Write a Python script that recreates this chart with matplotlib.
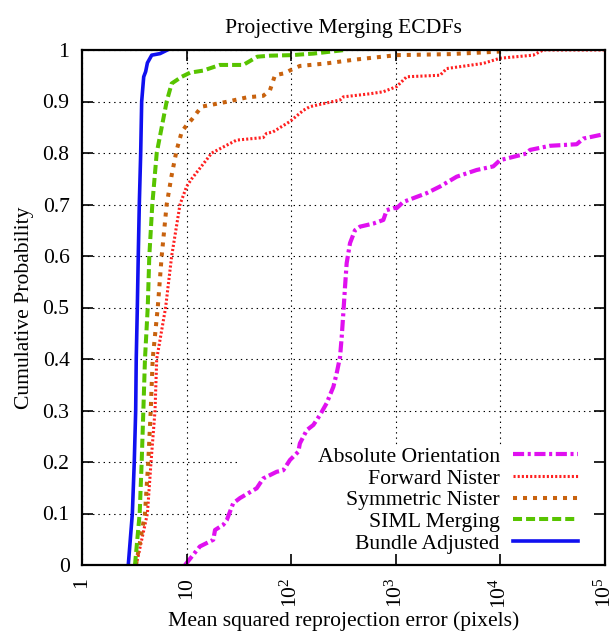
import numpy as np
import matplotlib
matplotlib.use("Agg")
import matplotlib.pyplot as plt
from matplotlib.patches import Rectangle

plt.rcParams['font.family'] = ['Liberation Serif', 'DejaVu Serif']
plt.rcParams['mathtext.fontset'] = 'custom'
plt.rcParams['mathtext.rm'] = 'Liberation Serif'
plt.rcParams['lines.scale_dashes'] = False
FS = 15.6

# ECDF curves: (error, cumulative probability)
abs_x = [9.66, 13.4, 18.0, 18.7, 22.4, 24.2, 27.9, 32.4, 46.8, 54.0, 72.6, 84.0,
         97.4, 117, 121, 141, 163, 188, 218, 253, 272, 293, 304, 315, 327, 339,
         365, 407, 455, 610, 760, 819, 946, 1020, 1180, 1970, 2650, 3820, 5930,
         8550, 9900, 17800, 19200, 29800, 53600, 62000, 100000]
abs_p = [0.0, 0.036, 0.049, 0.068, 0.078, 0.087, 0.12, 0.13, 0.149, 0.168, 0.181,
         0.184, 0.204, 0.22, 0.236, 0.262, 0.272, 0.291, 0.314, 0.346, 0.372,
         0.404, 0.443, 0.489, 0.54, 0.586, 0.625, 0.65, 0.657, 0.663, 0.67,
         0.689, 0.693, 0.693, 0.705, 0.722, 0.735, 0.754, 0.767, 0.774, 0.786,
         0.799, 0.806, 0.814, 0.817, 0.828, 0.837]

fwd_x = [3.3, 4.22, 4.57, 4.99, 5.18, 6.3, 7.2, 8.65, 10.0, 11.2, 17.4, 30, 54,
         58, 67, 97, 131, 151, 293, 315, 566, 760, 1020, 1270, 2650, 3070,
         6860, 9900, 20600, 25700, 100000]
fwd_p = [0.0, 0.1, 0.2, 0.3, 0.4, 0.5, 0.6, 0.7, 0.735, 0.75, 0.8, 0.825, 0.83,
         0.838, 0.841, 0.861, 0.883, 0.89, 0.903, 0.909, 0.915, 0.919, 0.929,
         0.948, 0.951, 0.964, 0.974, 0.984, 0.99, 1.0, 1.0]

sym_x = [3.28, 4.0, 4.3, 4.54, 4.74, 5.3, 5.78, 6.45, 7.2, 8.04, 8.98, 10.0,
         11.2, 13.9, 16.7, 25, 37.6, 54, 62.7, 70, 87, 101, 121, 218, 393,
         1020, 3300, 9900, 11500]
sym_p = [0.0, 0.1, 0.2, 0.3, 0.4, 0.5, 0.6, 0.7, 0.757, 0.806, 0.841, 0.854,
         0.865, 0.89, 0.893, 0.9, 0.908, 0.911, 0.922, 0.951, 0.955, 0.962,
         0.969, 0.974, 0.981, 0.99, 0.992, 0.997, 1.0]

siml_x = [3.21, 3.56, 3.72, 3.86, 4.0, 4.25, 4.4, 4.7, 5.18, 5.78, 6.45, 7.2,
          8.98, 10.8, 14.4, 20.8, 34.8, 47.4, 62.7, 100, 163, 325]
siml_p = [0.0, 0.1, 0.2, 0.3, 0.4, 0.5, 0.6, 0.7, 0.8, 0.85, 0.9, 0.935,
          0.948, 0.956, 0.96, 0.971, 0.971, 0.987, 0.989, 0.99, 0.993, 1.0]

ba_x = [2.77, 3.03, 3.16, 3.26, 3.30, 3.38, 3.45, 3.53, 3.64, 3.72, 3.89, 4.06,
        4.22, 4.64, 5.57, 6.54]
ba_p = [0.0, 0.1, 0.2, 0.3, 0.4, 0.5, 0.6, 0.7, 0.8, 0.9, 0.948, 0.958, 0.975,
        0.99, 0.993, 1.0]

xticks = [1, 10, 100, 1000, 10000, 100000]
xlabels = ['1', '10', r'$\mathregular{10^{2}}$', r'$\mathregular{10^{3}}$',
           r'$\mathregular{10^{4}}$', r'$\mathregular{10^{5}}$']
yticks = np.round(np.arange(0, 1.01, 0.1), 1)

fig = plt.figure(figsize=(6.15, 6.35), dpi=100)
rect = [82/615, 70/635, 523/615, 515/635]
ax = fig.add_axes(rect)
ax.set_xscale('log')
ax.set_xlim(1, 1e5)
ax.set_ylim(0, 1)
ax.set_axisbelow(True)
ax.set_xticks(xticks)
ax.set_yticks(yticks)
ax.minorticks_off()
ax.tick_params(length=0, labelbottom=False, labelleft=False)
ax.grid(True, color='black', linestyle=(0, (1.0, 2.8)), linewidth=0.8)
for s in ax.spines.values():
    s.set_visible(False)

# white key box hides the grid like gnuplot's opaque key
ax.add_patch(Rectangle((0.302, 0.0), 0.698, 0.229, transform=ax.transAxes,
                       facecolor='white', edgecolor='none', zorder=1))

ax.plot(abs_x, abs_p, color='#e010f0', lw=3.0, zorder=2,
        linestyle=(0, (8.0, 2.6, 2.2, 2.6)), label='Absolute Orientation')
ax.plot(fwd_x, fwd_p, color='#ff2020', lw=2.2, zorder=2,
        linestyle=(0, (1.5, 1.5)), label='Forward Nister')
ax.plot(sym_x, sym_p, color='#c8620e', lw=2.9, zorder=2,
        linestyle=(0, (2.9, 4.3)), label='Symmetric Nister')
ax.plot(siml_x, siml_p, color='#58c400', lw=2.9, zorder=2,
        linestyle=(0, (6.5, 2.9)), label='SIML Merging')
ax.plot(ba_x, ba_p, color='#1010f0', lw=2.6, zorder=2,
        linestyle='-', label='Bundle Adjusted')

leg = ax.legend(loc='lower right', bbox_to_anchor=(0.948, 0.022), markerfirst=False,
                frameon=False, fontsize=FS, handlelength=3.0, handletextpad=0.6,
                labelspacing=0.07, borderpad=0, borderaxespad=0)
leg.set_zorder(3)

# overlay axes for the border and inward ticks, drawn above the key box
ov = fig.add_axes(rect, facecolor='none')
ov.set_xscale('log')
ov.set_xlim(1, 1e5)
ov.set_ylim(0, 1)
ov.set_xticks(xticks)
ov.set_xticklabels(xlabels, rotation=90, fontsize=FS)
ov.set_yticks(yticks)
ov.set_yticklabels([('%g' % v) for v in yticks], fontsize=FS)
ov.minorticks_off()
ov.tick_params(direction='in', length=8, width=1.2, top=True, right=True,
               pad=9)
for s in ov.spines.values():
    s.set_linewidth(1.6)
ov.set_xlabel('Mean squared reprojection error (pixels)', fontsize=FS, labelpad=2)
ov.set_ylabel('Cumulative Probability', fontsize=FS, labelpad=6)
ov.set_title('Projective Merging ECDFs', fontsize=FS, pad=12)

fig.savefig('out.png', dpi=100)
